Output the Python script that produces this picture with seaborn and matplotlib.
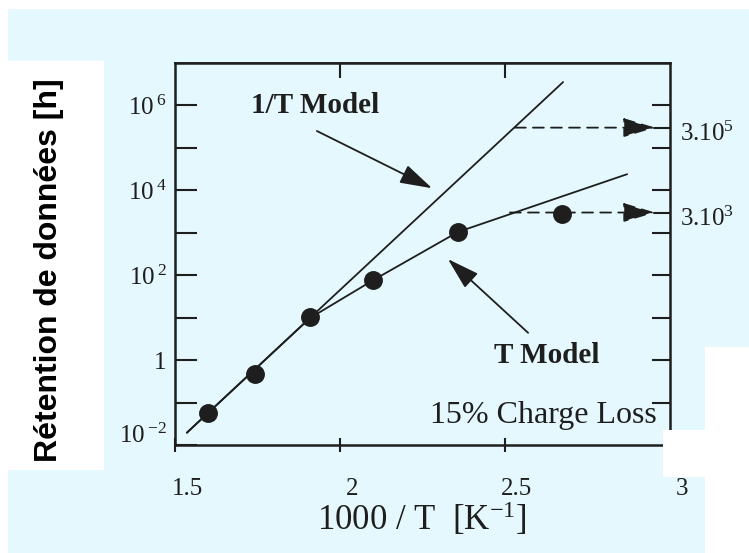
import seaborn as sns
import matplotlib
matplotlib.use('agg')
import matplotlib.pyplot as plt
from matplotlib.patches import Rectangle
from matplotlib.ticker import NullLocator
import matplotlib.transforms as mtransforms

# 1/T model: straight line on the log scale
inv_t_x = [1.536, 2.676]
inv_t_y = [0.0195, 3.55e6]

# T model curve
t_model_x = [1.536, 1.909, 2.100, 2.358, 2.870]
t_model_y = [0.0195, 9.8, 76, 1050, 24000]

# measured points
pts_x = [1.600, 1.742, 1.909, 2.100, 2.358, 2.673]
pts_y = [0.0575, 0.47, 10.5, 76, 1050, 2700]

# extrapolated retention (dashed arrows to right axis)
extrap_start_x = [2.530, 2.515]
extrap_y = [3e5, 3e3]
extrap_labels = ['3.10$^5$', '3.10$^3$']

x_ticks = [1.5, 2, 2.5, 3]
x_tick_labels = ['1.5', '2', '2.5', '3']
y_ticks = [1e-2, 1e-1, 1, 1e1, 1e2, 1e3, 1e4, 1e5, 1e6]
y_tick_labels = ['10$\\,^{-2}$', '', '1', '', '10$\\,^{2}$', '', '10$\\,^{4}$', '', '10$\\,^{6}$']
right_ticks = [1e-1, 1, 1e1, 1e2, 1e3, 1e4, 1e5, 1e6]

sns.set_theme(style='ticks')
plt.rcParams['font.family'] = ['Liberation Serif', 'DejaVu Serif']
plt.rcParams['mathtext.fontset'] = 'custom'
plt.rcParams['mathtext.rm'] = 'Liberation Serif'
plt.rcParams['mathtext.it'] = 'Liberation Serif:italic'
plt.rcParams['mathtext.bf'] = 'Liberation Serif:bold'

bg = '#E4F8FD'
ink = '#1e1e1e'

fig = plt.figure(figsize=(7.49, 5.53), dpi=100, facecolor=bg)
W, H = 749, 553

# white scan patches around the plot
for (x0, y0, w, h) in [(0, 0, 749, 9), (0, 0, 8, 553), (8, 61, 96, 409),
                       (705, 347, 44, 206), (663, 430, 42, 47)]:
    fig.patches.append(Rectangle((x0 / W, 1 - (y0 + h) / H), w / W, h / H,
                                 transform=fig.transFigure, facecolor='white',
                                 edgecolor='none', zorder=1))

ax = fig.add_axes([175 / W, 108 / H, 495 / W, 382 / H])
ax.set_facecolor(bg)

sns.lineplot(x=inv_t_x, y=inv_t_y, ax=ax, color=ink, lw=1.3)
sns.lineplot(x=t_model_x, y=t_model_y, ax=ax, color=ink, lw=1.3)
sns.scatterplot(x=pts_x, y=pts_y, ax=ax, color=ink, s=185, edgecolor=ink,
                linewidth=0, zorder=5)

ax.set_yscale('log')
ax.set_xlim(1.5, 3.0)
ax.set_ylim(1e-2, 1e7)

ax.set_xticks(x_ticks)
ax.set_xticklabels(x_tick_labels, fontsize=18)
ax.set_yticks(y_ticks)
ax.set_yticklabels(y_tick_labels, fontsize=18)
ax.yaxis.set_minor_locator(NullLocator())
ax.tick_params(axis='y', direction='in', length=16, width=1.5, pad=6,
               colors=ink)
ax.tick_params(axis='x', direction='inout', length=10, width=1.5, pad=19,
               colors=ink, top=False)
ax.set_ylabel('')
ax.set_xlabel('')
for s in ax.spines.values():
    s.set_linewidth(1.8)
    s.set_color(ink)

# scanned labels sit a little right of the x ticks, lowest y label raised
shift_x = mtransforms.ScaledTranslation(12 / 100, 0, fig.dpi_scale_trans)
for lab in ax.get_xticklabels():
    lab.set_transform(lab.get_transform() + shift_x)
shift_y = mtransforms.ScaledTranslation(0, 12 / 100, fig.dpi_scale_trans)
first = ax.get_yticklabels()[0]
first.set_transform(first.get_transform() + shift_y)

# top ticks inward, only at 2 and 2.5
top = ax.secondary_xaxis('top')
top.set_xticks([2, 2.5])
top.tick_params(direction='in', length=11, width=1.5, labeltop=False,
                colors=ink)

# right axis ticks
ax2 = ax.twinx()
ax2.set_yscale('log')
ax2.set_ylim(1e-2, 1e7)
ax2.set_yticks(right_ticks)
ax2.yaxis.set_minor_locator(NullLocator())
ax2.tick_params(axis='y', direction='in', length=13, width=1.5,
                labelright=False, colors=ink)
for s in ax2.spines.values():
    s.set_visible(False)

# dashed extrapolation arrows
for xs, yv in zip(extrap_start_x, extrap_y):
    ax.annotate('', xy=(2.955, yv), xytext=(xs, yv),
                arrowprops=dict(arrowstyle='-|>,head_length=1.0,head_width=0.3',
                                mutation_scale=20, color=ink, lw=1.3,
                                linestyle=(0, (6, 4)), shrinkA=0, shrinkB=0))
    ax.plot([2.95, 3.0], [yv, yv], color=ink, lw=1.5)

blend = mtransforms.blended_transform_factory(ax.transAxes, ax.transData)
for lab, yv in zip(extrap_labels, extrap_y):
    ax.text(1.02, yv * 0.72, lab, transform=blend, ha='left', va='center',
            fontsize=18, color=ink)

# model annotations
arrow = dict(arrowstyle='-|>,head_length=1.0,head_width=0.3',
             mutation_scale=20, color=ink, lw=1.3, shrinkA=0, shrinkB=0)
ax.text(1.924, 1e6, '1/T Model', ha='center', va='center', fontsize=21,
        fontweight='bold', color=ink)
ax.annotate('', xy=(2.279, 11200), xytext=(1.930, 2.5e5), arrowprops=arrow)
ax.text(2.627, 1.3, 'T Model', ha='center', va='center', fontsize=21,
        fontweight='bold', color=ink)
ax.annotate('', xy=(2.327, 240), xytext=(2.570, 4.4), arrowprops=arrow)
ax.text(2.961, 0.049, '15% Charge Loss', ha='right', va='center',
        fontsize=23, color=ink)

fig.text(422 / W, 1 - 519 / H, '1000 / T  [K$^{-1}$]', ha='center',
         va='center', fontsize=25, color=ink)
fig.text(49 / W, 1 - 270 / H, 'Rétention de données [h]', rotation=90,
         ha='center', va='center', fontsize=23, fontweight='bold',
         family=['Liberation Sans', 'DejaVu Sans'], color='black', zorder=3)

fig.savefig('out.png', dpi=100, facecolor=bg)
